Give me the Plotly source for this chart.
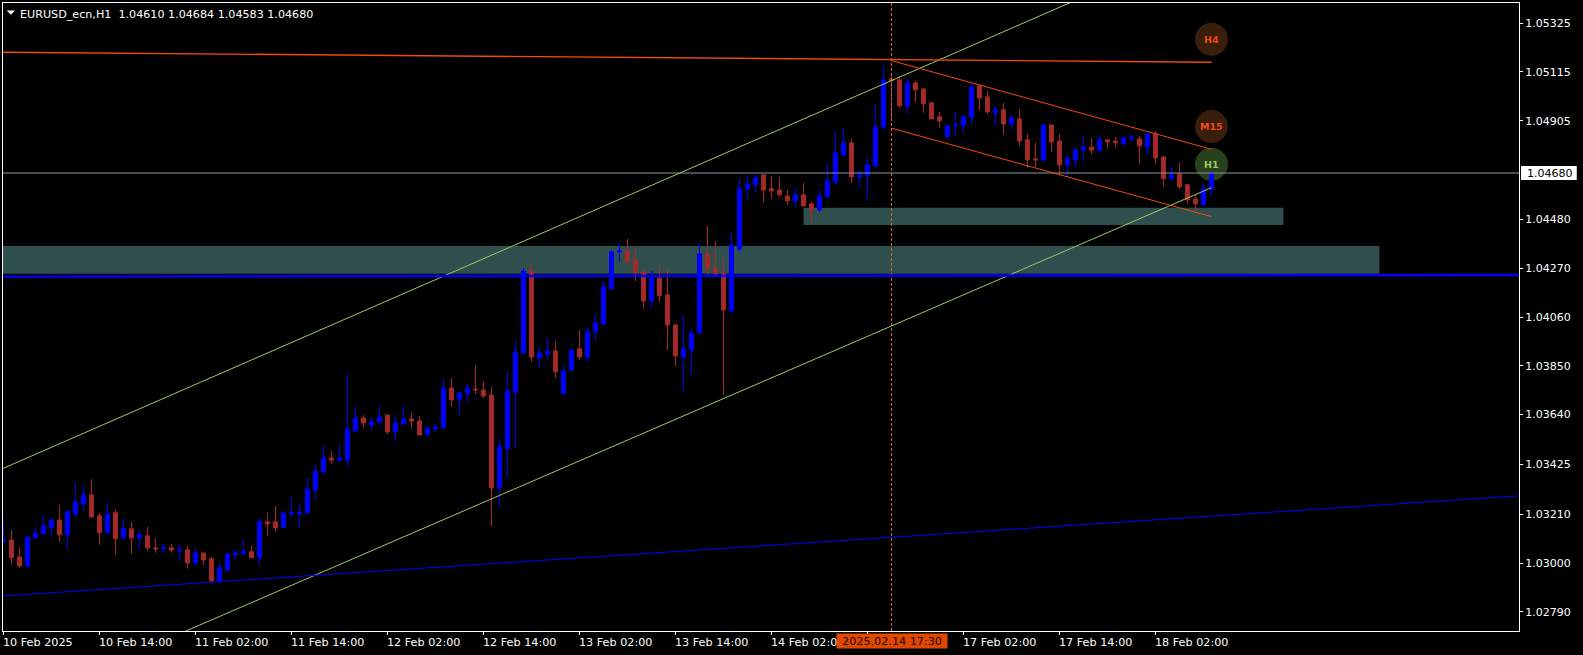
import plotly.graph_objects as go

SCALE = 100000.0

# OHLC of the 152 H1 bars, in points (1e-5 of a price unit)
opens = [103092,103100,103027,102988,103109,103126,103152,103186,103122,103212,
103255,103294,103204,103131,103217,103109,103148,103109,103118,103066,
103062,103066,103052,103057,103001,103044,103019,102922,102971,103036,
103040,103049,103023,103178,103178,103155,103212,103212,103216,103315,
103393,103453,103444,103444,103569,103625,103595,103608,103638,103565,
103599,103621,103612,103556,103578,103582,103754,103703,103733,103750,
103746,103724,103324,103492,103737,103905,104258,103884,103901,103914,
103729,103832,103923,103888,103996,104030,104181,104340,104345,104306,
104254,104129,104228,104155,104026,103888,103918,103991,104332,104271,
104250,104086,104352,104612,104629,104672,104612,104607,104581,104560,
104586,104547,104521,104577,104642,104758,104810,104663,104668,104711,
104879,105085,105081,104969,105068,105042,104982,104922,104835,104883,
104883,104917,105055,105008,104939,104952,104891,104913,104823,104741,
104736,104887,104818,104715,104736,104779,104792,104779,104823,104818,
104805,104827,104827,104792,104848,104749,104655,104676,104629,104568,
104543,104610]
highs = [103179,103143,103067,103112,103155,103212,103198,103251,103230,103346,
103333,103362,103215,103258,103232,103195,103178,103143,103156,103105,
103083,103083,103083,103075,103066,103044,103027,103001,103040,103057,
103105,103075,103195,103217,103247,103225,103286,103258,103367,103430,
103509,103483,103509,103810,103673,103638,103629,103673,103638,103638,
103677,103651,103634,103591,103599,103789,103797,103737,103772,103853,
103784,103759,103535,103824,103957,104271,104297,103931,103970,103957,
103854,103918,104004,104017,104073,104215,104349,104379,104396,104362,
104263,104258,104284,104271,104030,104069,104009,104379,104452,104388,
104314,104422,104655,104668,104676,104672,104668,104663,104607,104612,
104637,104556,104607,104719,104861,104874,104827,104693,104745,104973,
105141,105100,105098,105085,105077,105046,104982,104943,104891,104943,
104930,105064,105059,105034,104969,104982,104930,104956,104848,104810,
104891,104887,104848,104762,104792,104840,104831,104844,104823,104835,
104835,104848,104840,104857,104861,104754,104706,104724,104633,104586,
104633,104684]
lows = [103089,102993,102980,102988,103105,103126,103112,103092,103057,103199,
103225,103195,103079,103129,103036,103103,103040,103057,103053,103044,
103044,103044,103010,102976,102988,102993,102915,102915,102967,103014,
103036,103023,102988,103118,103135,103152,103199,103157,103212,103272,
103384,103427,103436,103414,103569,103582,103573,103591,103556,103530,
103595,103578,103552,103539,103561,103582,103673,103638,103690,103728,
103711,103160,103242,103371,103496,103901,103867,103841,103875,103798,
103729,103824,103875,103867,103957,104026,104181,104297,104280,104215,
104095,104103,104125,103918,103849,103742,103811,103991,104241,104241,
103724,104078,104345,104564,104594,104551,104568,104577,104543,104534,
104538,104465,104513,104577,104629,104749,104637,104620,104564,104702,
104866,104909,104960,104934,104986,104939,104913,104874,104835,104840,
104848,104891,104952,104934,104887,104844,104870,104797,104702,104706,
104728,104771,104672,104663,104706,104732,104762,104771,104784,104788,
104801,104818,104719,104758,104719,104620,104650,104612,104547,104513,
104538,104583]
closes = [103100,103023,102988,103112,103129,103161,103186,103122,103221,103264,
103293,103199,103131,103212,103105,103148,103109,103122,103066,103062,
103066,103057,103057,103001,103044,103014,102924,102980,103040,103044,
103049,103023,103178,103169,103152,103215,103217,103220,103319,103397,
103453,103444,103453,103578,103625,103604,103608,103629,103565,103604,
103621,103612,103552,103582,103586,103754,103703,103733,103754,103746,
103720,103324,103501,103742,103910,104258,103888,103905,103914,103824,
103828,103918,103888,103996,104035,104190,104340,104345,104301,104250,
104129,104228,104151,104026,103892,103923,103991,104332,104267,104245,
104090,104370,104612,104633,104659,104607,104603,104586,104560,104586,
104538,104521,104581,104646,104767,104810,104663,104672,104715,104879,
105081,105077,104969,105068,105038,104978,104913,104904,104883,104887,
104922,105051,105003,104943,104952,104891,104917,104818,104736,104736,
104887,104814,104715,104741,104779,104792,104779,104823,104814,104810,
104831,104835,104797,104848,104745,104655,104672,104620,104564,104547,
104612,104680]

# axis labels ("" = the tick whose label is hidden behind the crosshair date box)
x_tick_bars = [0, 12, 24, 36, 48, 60, 72, 84, 96, 108, 120, 132, 144]
x_tick_labels = ["10 Feb 2025", "10 Feb 14:00", "11 Feb 02:00", "11 Feb 14:00",
                 "12 Feb 02:00", "12 Feb 14:00", "13 Feb 02:00", "13 Feb 14:00",
                 "14 Feb 02:00", "", "17 Feb 02:00", "17 Feb 14:00",
                 "18 Feb 02:00"]
y_ticks = [1.05325, 1.05115, 1.04905, 1.04480, 1.04270, 1.04060, 1.03850,
           1.03640, 1.03425, 1.03210, 1.03000, 1.02790]

title_text = "EURUSD_ecn,H1  1.04610 1.04684 1.04583 1.04680"
cursor_label = "2025.02.14 17:30"
last_price = 1.04680
cursor_bar = 111

# drawn objects: (bar, price) end points
green_upper_bars = [-0.06, 133.56]
green_upper_prices = [1.03408, 1.05417]
green_lower_bars = [22.8, 151]
green_lower_prices = [1.02708, 1.04617]
orange_long_bars = [-0.06, 151]
orange_long_prices = [1.05200, 1.05157]
orange_top_bars = [111, 151]
orange_top_prices = [1.05164, 1.04782]
orange_bottom_bars = [111, 151]
orange_bottom_prices = [1.04873, 1.04492]
blue_flat_bars = [-0.06, 189.44]
blue_flat_prices = [1.04234, 1.04241]
blue_rising_bars = [-0.06, 189.44]
blue_rising_prices = [1.02859, 1.03290]

zone_small = (100, 160, 1.04456, 1.04530)
zone_big = (-1, 172, 1.04246, 1.04366)

badge_names = ["H4", "M15", "H1"]
badge_prices = [1.05256, 1.04880, 1.04718]
badge_fills = ["#3A1E0C", "#3A1E0C", "#29401C"]
badge_text = ["#F04A0C", "#F04A0C", "#9CCB5C"]

BLUE = "#0000FF"
BROWN = "#A52A2A"
GREEN = "#9CCB5C"
ORANGE = "#F04A0C"
ZONE = "#2F4F4F"
GREY = "#8C93A3"
FONT = "DejaVu Sans"

bars = list(range(len(opens)))
X_RANGE = [-0.0625, 189.4375]
Y_RANGE = [1.02708, 1.05412]

fig = go.Figure()

fig.add_trace(go.Candlestick(
    x=bars,
    open=[v / SCALE for v in opens],
    high=[v / SCALE for v in highs],
    low=[v / SCALE for v in lows],
    close=[v / SCALE for v in closes],
    increasing=dict(line=dict(color=BLUE, width=1), fillcolor=BLUE),
    decreasing=dict(line=dict(color=BROWN, width=1), fillcolor=BROWN),
    whiskerwidth=0,
    hoverinfo="skip",
    showlegend=False,
))


def add_line(xs, ys, color, width=1.0, dash=None):
    fig.add_trace(go.Scatter(x=xs, y=ys, mode="lines", hoverinfo="skip", showlegend=False,
                             line=dict(color=color, width=width, dash=dash)))


add_line(X_RANGE, [last_price, last_price], GREY, 1.0)
add_line([cursor_bar, cursor_bar], Y_RANGE, "#D9622B", 1.0, "3px,2px")
add_line(green_upper_bars, green_upper_prices, GREEN, 1.0)
add_line(green_lower_bars, green_lower_prices, GREEN, 1.0)
add_line(orange_long_bars, orange_long_prices, ORANGE, 1.4)
add_line(orange_top_bars, orange_top_prices, ORANGE, 1.0)
add_line(orange_bottom_bars, orange_bottom_prices, ORANGE, 1.0)
add_line(blue_flat_bars, blue_flat_prices, BLUE, 2.4)
add_line(blue_rising_bars, blue_rising_prices, BLUE, 1.0)

shapes = []
for z in (zone_small, zone_big):
    shapes.append(dict(type="rect", xref="x", yref="y", x0=z[0], x1=z[1], y0=z[2], y1=z[3],
                       fillcolor=ZONE, line=dict(width=0), layer="below"))
for price, fill in zip(badge_prices, badge_fills):
    shapes.append(dict(type="circle", xref="x", yref="y", xsizemode="pixel", ysizemode="pixel",
                       xanchor=bars[-1], yanchor=price, x0=-16.5, x1=16.5, y0=-16.5, y1=16.5,
                       fillcolor=fill, line=dict(width=0), layer="below"))
# the small menu triangle in front of the title
shapes.append(dict(type="path", xref="paper", yref="paper", xsizemode="pixel", ysizemode="pixel",
                   xanchor=0, yanchor=1, path="M 3.7,-7.5 L 12,-7.5 L 7.9,-11.8 Z",
                   fillcolor="white", line=dict(width=0)))
# white box behind the last price label
shapes.append(dict(type="rect", xref="paper", yref="y", ysizemode="pixel", yanchor=last_price,
                   x0=1.0013, x1=1.0381, y0=-7, y1=7, fillcolor="white", line=dict(width=0)))

annotations = []
for bar, label in zip(x_tick_bars, x_tick_labels):
    if label:
        annotations.append(dict(x=bar, y=0, xref="x", yref="paper", text=label, showarrow=False,
                                xanchor="left", yanchor="top", xshift=-3, yshift=-3,
                                font=dict(family=FONT, size=11.2, color="white")))
annotations.append(dict(x=cursor_bar, y=0, xref="x", yref="paper", text=cursor_label, showarrow=False,
                        xanchor="center", yanchor="top", yshift=-1.5, width=110, height=14,
                        bgcolor="#E04800", borderpad=0,
                        font=dict(family=FONT, size=11.2, color="#1A0A00")))
annotations.append(dict(x=1.0, y=last_price, xref="paper", yref="y", text="1.04680", showarrow=False,
                        xanchor="left", yanchor="middle", xshift=6,
                        font=dict(family=FONT, size=11, color="black")))
annotations.append(dict(x=0, y=1, xref="paper", yref="paper", text=title_text, showarrow=False,
                        xanchor="left", yanchor="top", xshift=14.5, yshift=-3,
                        font=dict(family=FONT, size=11.15, color="white")))
for name, price, color in zip(badge_names, badge_prices, badge_text):
    annotations.append(dict(x=bars[-1], y=price, xref="x", yref="y", text="<b>" + name + "</b>",
                            showarrow=False, xanchor="center", yanchor="middle",
                            font=dict(family=FONT, size=9.5, color=color)))

fig.update_layout(
    width=1583, height=655,
    margin=dict(l=3, r=64, t=3, b=24, autoexpand=False),
    paper_bgcolor="black", plot_bgcolor="black",
    showlegend=False,
    shapes=shapes,
    annotations=annotations,
    xaxis=dict(range=X_RANGE, rangeslider=dict(visible=False), showgrid=False, zeroline=False,
               tickmode="array", tickvals=x_tick_bars, ticktext=[""] * len(x_tick_bars),
               ticks="outside", ticklen=3, tickwidth=1, tickcolor="white",
               showline=True, linecolor="white", linewidth=1, mirror=True),
    yaxis=dict(range=Y_RANGE, side="right", showgrid=False, zeroline=False,
               tickmode="array", tickvals=y_ticks, ticktext=["%.5f" % v for v in y_ticks],
               ticks="outside", ticklen=3, tickwidth=1, tickcolor="white",
               tickfont=dict(family=FONT, size=11, color="white"),
               showline=True, linecolor="white", linewidth=1, mirror=True),
)

fig.write_html("out.html", config=dict(displayModeBar=False),
               post_script="document.body.style.margin='0';document.body.style.background='black';document.body.style.overflow='hidden';")
